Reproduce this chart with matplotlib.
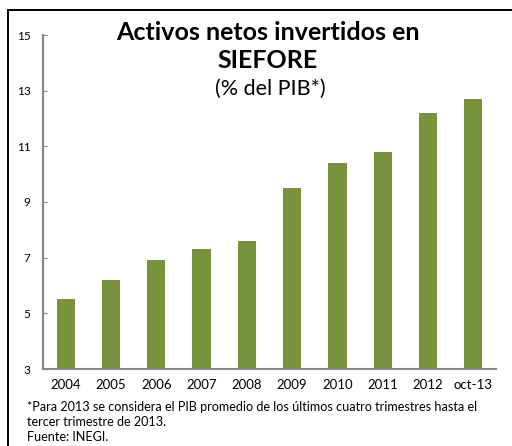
import matplotlib
matplotlib.use("Agg")
import matplotlib.pyplot as plt
from matplotlib.patches import Rectangle

years = ["2004", "2005", "2006", "2007", "2008", "2009", "2010", "2011", "2012", "oct-13"]
pct_pib = [5.5, 6.2, 6.9, 7.3, 7.6, 9.5, 10.4, 10.8, 12.2, 12.7]
yticks = [3, 5, 7, 9, 11, 13, 15]

plt.rcParams["font.family"] = ["Lato", "DejaVu Sans"]
green = "#77933C"
axis_gray = "#868686"

fig = plt.figure(figsize=(5.12, 4.46), dpi=100)
ax = fig.add_axes([43 / 512, 1 - 369 / 446, 453 / 512, 334 / 446])

x = list(range(len(years)))
ax.bar(x, pct_pib, width=0.4, color=green, zorder=2)
ax.set_xlim(-0.5, len(years) - 0.5)
ax.set_ylim(3, 15)
ax.set_yticks(yticks)
ax.set_xticks(x)
ax.set_xticklabels(years, fontsize=9.5)
ax.tick_params(axis="y", direction="in", length=3, color=axis_gray, labelsize=8.5, pad=9)
ax.tick_params(axis="x", length=0, pad=7)

for side in ["top", "right"]:
    ax.spines[side].set_visible(False)
for side in ["left", "bottom"]:
    ax.spines[side].set_color(axis_gray)
    ax.spines[side].set_linewidth(1.5)

# titles sit inside the plot area
fig.text(268 / 512, 1 - 33 / 446, "Activos netos invertidos en", ha="center", va="center",
         fontsize=18, fontweight="bold")
fig.text(268 / 512, 1 - 61 / 446, "SIEFORE", ha="center", va="center",
         fontsize=18, fontweight="bold")
fig.text(270 / 512, 1 - 89 / 446, "(% del PIB*)", ha="center", va="center", fontsize=15.5)

notes = ("*Para 2013 se considera el PIB promedio de los últimos cuatro trimestres hasta el\n"
         "tercer trimestre de 2013.\n"
         "Fuente: INEGI.")
fig.text(27 / 512, 1 - 401 / 446, notes, ha="left", va="top", fontsize=9.1, linespacing=1.3)

# outer frame (only left and top edges fall inside the image)
fig.patches.append(Rectangle((8 / 512, -0.05), 1.1, 1 - 10 / 446 + 0.05,
                             transform=fig.transFigure, fill=False,
                             edgecolor="black", linewidth=1.4))

fig.savefig("out.png", dpi=100)
